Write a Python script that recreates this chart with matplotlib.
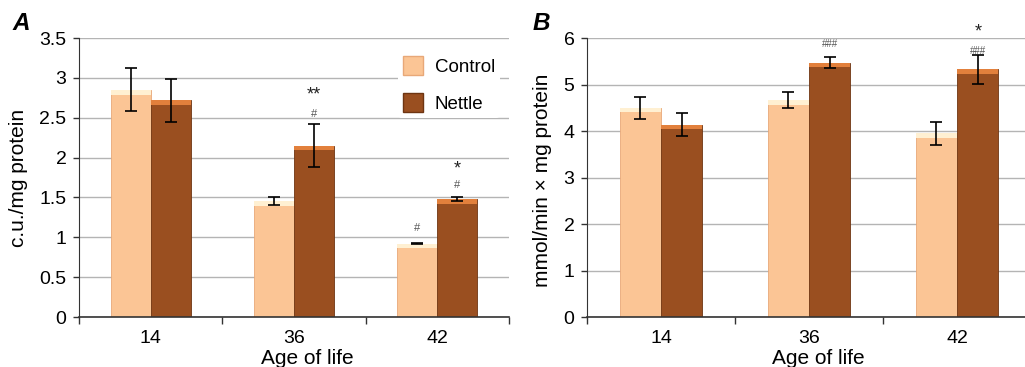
import numpy as np
import matplotlib
matplotlib.use("Agg")
import matplotlib.pyplot as plt
from matplotlib.patches import Patch

plt.rcParams['font.family'] = ['Liberation Sans', 'DejaVu Sans']

ages = ["14", "36", "42"]

# panel A
a_control = [2.85, 1.45, 0.92]
a_control_err = [0.27, 0.05, 0.01]
a_nettle = [2.72, 2.15, 1.48]
a_nettle_err = [0.27, 0.27, 0.02]
a_ctrl_marks = ["", "", "#"]
a_ctrl_mark_y = [0, 0, 1.12]
a_net_star = ["", "**", "*"]
a_net_star_y = [0, 2.78, 1.86]
a_net_hash = ["", "#", "#"]
a_net_hash_y = [0, 2.55, 1.66]

# panel B
b_control = [4.50, 4.66, 3.95]
b_control_err = [0.24, 0.17, 0.25]
b_nettle = [4.14, 5.47, 5.33]
b_nettle_err = [0.25, 0.12, 0.31]
b_net_star = ["", "", "*"]
b_net_star_y = [0, 0, 6.12]
b_net_hash = ["", "###", "###"]
b_net_hash_y = [0, 5.88, 5.72]

c_face = "#fbc595"
c_top = "#fff0d2"
c_edge = "#e8a878"
n_face = "#9a4f20"
n_top = "#e2803c"
n_edge = "#6e3512"

bw = 0.28


def draw_panel(ax, ctrl, ctrl_err, net, net_err, ymax, ystep, bevel):
    x = np.arange(len(ages))
    ax.set_axisbelow(True)
    ax.grid(True, axis="y", color="#b4b4b4", linewidth=1.0)
    ax.bar(x - bw/2, ctrl, bw, color=c_face, edgecolor=c_edge, linewidth=0.6, zorder=2)
    ax.bar(x - bw/2, bevel, bw, bottom=np.array(ctrl) - bevel, color=c_top, linewidth=0, zorder=2.1)
    ax.bar(x + bw/2, net, bw, color=n_face, edgecolor=n_edge, linewidth=0.6, zorder=2)
    ax.bar(x + bw/2, bevel, bw, bottom=np.array(net) - bevel, color=n_top, linewidth=0, zorder=2.1)
    ax.errorbar(x - bw/2, ctrl, yerr=ctrl_err, fmt="none", ecolor="black", elinewidth=1.2, capsize=4, capthick=1.2, zorder=3)
    ax.errorbar(x + bw/2, net, yerr=net_err, fmt="none", ecolor="black", elinewidth=1.2, capsize=4, capthick=1.2, zorder=3)
    ax.set_xlim(-0.5, len(ages) - 0.5)
    ax.set_ylim(0, ymax)
    ax.set_yticks(np.arange(0, ymax + ystep/2, ystep))
    ax.set_yticklabels([f"{v:g}" for v in np.arange(0, ymax + ystep/2, ystep)])
    ax.set_xticks(x)
    ax.set_xticklabels(ages)
    ax.set_xticks(np.arange(-0.5, len(ages), 1), minor=True)
    ax.tick_params(axis="x", which="major", length=0, labelsize=14, pad=9)
    ax.tick_params(axis="x", which="minor", length=5, width=1.0, color="#333333")
    ax.tick_params(axis="y", length=4, width=1.0, color="#333333", labelsize=14, pad=5)
    for s in ["top", "right"]:
        ax.spines[s].set_visible(False)
    ax.spines["left"].set_color("#333333")
    ax.spines["bottom"].set_color("#333333")
    ax.spines["bottom"].set_linewidth(1.2)
    ax.set_xlabel("Age of life", fontsize=15, labelpad=0)
    return x


fig = plt.figure(figsize=(10.25, 3.67), dpi=100)
axA = fig.add_axes((0.0771, 0.1362, 0.4195, 0.7602))
axB = fig.add_axes((0.5727, 0.1362, 0.4332, 0.7602))

x = draw_panel(axA, a_control, a_control_err, a_nettle, a_nettle_err, 3.5, 0.5, 0.06)
for i in range(len(ages)):
    if a_ctrl_marks[i]:
        axA.text(x[i] - bw/2, a_ctrl_mark_y[i], a_ctrl_marks[i], ha="center", va="center", fontsize=8, color="#555555")
    if a_net_star[i]:
        axA.text(x[i] + bw/2, a_net_star_y[i], a_net_star[i], ha="center", va="center", fontsize=13, color="#222222")
    if a_net_hash[i]:
        axA.text(x[i] + bw/2, a_net_hash_y[i], a_net_hash[i], ha="center", va="center", fontsize=8, color="#555555")
axA.set_ylabel("c.u./mg protein", fontsize=15)
axA.yaxis.set_label_coords(-0.119, 0.5)
axA.xaxis.set_label_coords(0.53, -0.115)

handles = [Patch(facecolor=c_face, edgecolor=c_edge, label="Control"),
           Patch(facecolor=n_face, edgecolor=n_edge, label="Nettle")]
leg = axA.legend(handles=handles, loc="upper right", bbox_to_anchor=(1.0, 0.985), fontsize=13.5,
                 frameon=True, facecolor="white", edgecolor="none", framealpha=1,
                 handlelength=1.1, handleheight=1.2, handletextpad=0.6, labelspacing=0.9, borderpad=0.25)

x = draw_panel(axB, b_control, b_control_err, b_nettle, b_nettle_err, 6, 1, 0.1)
for i in range(len(ages)):
    if b_net_star[i]:
        axB.text(x[i] + bw/2, b_net_star_y[i], b_net_star[i], ha="center", va="center", fontsize=13, color="#222222", clip_on=False)
    if b_net_hash[i]:
        axB.text(x[i] + bw/2, b_net_hash_y[i], b_net_hash[i], ha="center", va="center", fontsize=7, color="#555555", clip_on=False)
axB.set_ylabel("mmol/min \u00d7 mg protein", fontsize=15)
axB.yaxis.set_label_coords(-0.079, 0.49)
axB.xaxis.set_label_coords(0.52, -0.115)

fig.text(0.012, 0.935, "A", fontsize=17.5, fontweight="bold", fontstyle="italic", va="center")
fig.text(0.520, 0.935, "B", fontsize=17.5, fontweight="bold", fontstyle="italic", va="center")

fig.savefig("out.png", dpi=100)
